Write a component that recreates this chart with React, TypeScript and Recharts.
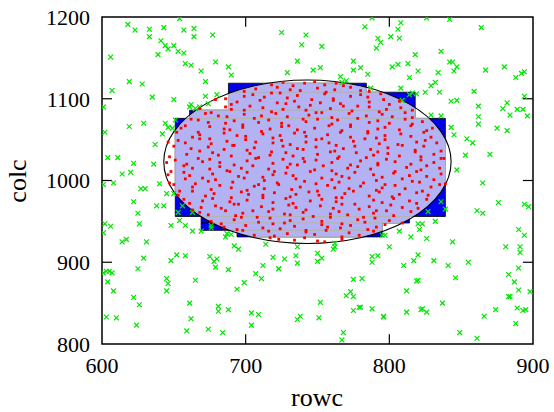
import React from "react";
import {
  ScatterChart,
  Scatter,
  XAxis,
  YAxis,
  ReferenceArea,
  ReferenceLine,
} from "recharts";

const xTicks = [600, 700, 800, 900];
const yTicks = [800, 900, 1000, 1100, 1200];
const innerXTicks = [700, 800];
const innerYTicks = [900, 1000, 1100];

// stepped region, boxes as [x1, x2, y1, y2]
const regionBoxes: number[][] = [
  [688, 784, 1108, 1119],
  [688, 818, 1086, 1108],
  [661, 818, 1076, 1086],
  [651, 839, 956, 1076],
  [669, 814, 948, 956],
  [669, 795, 939, 948],
  [694, 795, 931, 939],
];

// ellipse bounding box [x1, x2, y1, y2]
const ellipseBox = [643, 843, 923, 1123];

// rejected points (green x)
const outsidePoints: number[][] = [
  [618,1191],[623,1184],[633,1185],[633,1176],[643,1187],[654,1198],[657,1184],[664,1186],[664,1176],[677,1178],
  [641,1171],[644,1165],[646,1161],[650,1165],[653,1158],[657,1156],[606,1151],[639,1154],[658,1143],[662,1141],
  [669,1134],[679,1145],[688,1139],[690,1129],[672,1121],[619,1121],[628,1118],[607,1110],[635,1102],[650,1099],
  [662,1093],[661,1090],[665,1088],[668,1090],[672,1103],[680,1105],[674,1094],[601,1090],[602,1059],[619,1066],
  [629,1070],[644,1070],[646,1065],[642,1057],[649,1064],[651,1074],[637,1044],[604,1028],[611,1028],[622,1021],
  [620,1010],[636,1020],[614,1008],[608,997],[601,995],[627,990],[630,990],[640,996],[645,984],[650,984],
  [725,1181],[742,1178],[739,1166],[753,1164],[736,1146],[729,1132],[747,1135],[752,1138],[788,1199],[826,1199],
  [842,1197],[808,1193],[783,1188],[806,1185],[801,1176],[807,1174],[792,1174],[794,1169],[791,1162],[864,1187],
  [836,1158],[818,1154],[775,1146],[775,1135],[780,1138],[802,1139],[806,1142],[813,1143],[820,1134],[834,1132],
  [842,1145],[844,1145],[847,1139],[845,1134],[785,1130],[766,1127],[770,1122],[767,1120],[814,1126],[832,1120],
  [829,1116],[825,1108],[835,1108],[814,1105],[816,1107],[819,1106],[859,1109],[867,1135],[880,1139],[888,1126],
  [894,1133],[892,1131],[894,1103],[843,1097],[847,1098],[862,1091],[879,1088],[882,1095],[884,1080],[889,1087],
  [893,1087],[896,1079],[862,1078],[862,1069],[829,1080],[836,1079],[843,1065],[845,1056],[875,1064],[882,1061],
  [854,1051],[858,1046],[853,1031],[870,1032],[847,1013],[865,997],[809,1098],[808,1113],[787,1113],
  [622,974],[638,969],[643,969],[625,960],[626,947],[602,947],[606,944],[601,936],[614,925],[617,928],
  [631,925],[648,945],[654,951],[658,945],[663,938],[669,938],[676,945],[676,942],[656,969],[663,961],
  [653,961],[629,905],[648,902],[652,909],[658,908],[675,907],[678,901],[680,904],[679,894],[688,891],
  [625,892],[601,887],[603,889],[605,889],[607,887],[604,876],[608,865],[622,857],[626,848],[603,833],
  [610,832],[624,823],[645,880],[646,874],[645,865],[665,878],[661,850],[662,831],[659,816],[674,818],
  [681,846],[681,840],[688,842],[684,814],[694,867],[699,875],[704,838],[709,836],[704,823],[692,920],
  [695,916],[687,935],[686,931],[690,934],[714,922],[707,886],[711,880],[712,896],[719,906],[723,892],
  [836,974],[839,965],[827,962],[832,950],[820,947],[823,947],[821,940],[826,929],[844,925],[807,938],
  [815,931],[800,919],[795,933],[797,933],[762,923],[762,919],[761,916],[736,919],[735,908],[736,899],
  [723,892],[727,904],[750,911],[753,905],[750,901],[788,907],[792,908],[788,900],[810,896],[817,902],
  [820,909],[831,902],[841,896],[855,900],[846,881],[820,878],[819,877],[812,865],[837,850],[822,842],
  [823,843],[826,839],[812,839],[788,843],[796,834],[796,833],[775,879],[781,880],[773,864],[770,859],
  [775,858],[779,845],[780,845],[775,841],[752,851],[751,832],[738,834],[736,830],[768,814],[767,805],
  [849,814],[861,807],[866,834],[874,842],[889,844],[893,841],[895,842],[888,825],[883,858],[884,858],
  [890,866],[883,885],[887,876],[881,919],[891,919],[891,912],[890,940],[894,933],[876,973],[894,971],
  [897,968],[861,963],[865,960],[898,864],[890,893],
];

// accepted points (red dots)
const insidePoints: number[][] = [
  [717,930],[723,928],[734,927],[741,930],[750,926],[755,925],[767,928],
  [698,939],[706,933],[716,938],[720,932],[729,935],[742,937],[748,934],[756,939],[767,931],[772,936],[779,933],[789,938],
  [685,943],[694,940],[700,945],[712,942],[719,947],[724,941],[734,944],[742,939],[753,946],[757,943],[766,942],[773,945],[785,940],[791,943],[797,946],
  [676,950],[683,947],[692,952],[697,955],[709,949],[717,954],[727,948],[731,951],[740,953],[753,950],[759,955],[767,947],[778,952],[783,949],[790,954],[800,951],[809,948],
  [668,961],[674,958],[686,963],[693,957],[698,960],[708,955],[716,962],[727,959],[731,958],[740,961],[747,956],[759,959],[765,962],[771,958],[782,955],[789,960],[798,963],[803,957],[815,962],
  [663,964],[669,967],[679,969],[683,966],[692,971],[705,963],[711,968],[719,965],[730,970],[735,967],[742,964],[752,969],[761,966],[767,971],[779,965],[786,968],[791,963],[801,970],[809,967],[820,966],
  [657,977],[661,972],[670,975],[677,978],[689,974],[695,971],[701,976],[712,979],[719,973],[728,978],[733,972],[745,975],[753,977],[763,974],[767,979],[776,971],[789,976],[795,973],[803,978],[814,975],[819,972],[826,977],
  [653,982],[663,987],[672,981],[678,984],[690,979],[697,986],[702,983],[712,982],[720,985],[731,980],[735,983],[744,986],[751,982],[763,979],[769,984],[775,987],[786,981],[793,986],[802,980],[807,983],[819,985],[827,982],
  [650,995],[654,987],[663,992],[676,989],[682,994],[690,991],[701,988],[706,993],[713,990],[723,995],[732,989],[738,992],[750,987],[757,994],[762,991],[772,990],[780,993],[791,988],[795,991],[804,994],[811,990],[823,987],[829,992],[835,995],
  [647,997],[658,1002],[665,996],[674,999],[679,1001],[691,998],[699,1003],[709,995],[713,1000],[722,997],[735,1002],[741,999],[749,996],[760,1001],[765,998],[772,1003],[782,997],[791,1000],[797,995],[809,1002],[816,999],[821,998],[831,1001],[839,996],
  [646,1007],[657,1010],[661,1006],[670,1003],[677,1008],[689,1011],[695,1005],[701,1010],[712,1004],[719,1007],[728,1009],[733,1006],[745,1011],[753,1003],[763,1008],[767,1005],[776,1010],[789,1007],[795,1004],[803,1009],[814,1006],[819,1011],[826,1005],[836,1008],
  [648,1011],[657,1018],[663,1015],[675,1014],[682,1017],[687,1012],[697,1015],[705,1018],[716,1014],[720,1011],[729,1016],[736,1019],[748,1013],[754,1018],[760,1012],[771,1015],[778,1017],[787,1014],[792,1019],[804,1011],[812,1016],[822,1013],[826,1018],[835,1015],
  [645,1022],[651,1025],[659,1020],[670,1023],[675,1026],[682,1022],[692,1019],[701,1024],[707,1027],[719,1021],[726,1026],[731,1020],[741,1023],[749,1025],[760,1022],[764,1027],[773,1019],[780,1024],[792,1021],[798,1026],[804,1023],[815,1020],[822,1025],[831,1022],[836,1027],
  [647,1029],[659,1032],[667,1027],[677,1034],[681,1031],[690,1030],[703,1033],[709,1028],[717,1031],[728,1034],[733,1030],[740,1027],[750,1032],[759,1035],[765,1029],[777,1034],[784,1028],[789,1031],[799,1033],[807,1030],[818,1035],[822,1029],[831,1032],[838,1027],
  [650,1042],[662,1039],[668,1036],[674,1041],[685,1038],[692,1043],[701,1037],[706,1040],[718,1035],[726,1042],[736,1039],[740,1038],[749,1041],[762,1036],[768,1039],[776,1042],[787,1038],[792,1035],[799,1040],[809,1043],[818,1037],[824,1042],[836,1036],
  [646,1047],[653,1049],[658,1046],[668,1051],[676,1045],[687,1048],[691,1043],[700,1050],[707,1047],[719,1046],[725,1049],[731,1044],[742,1047],[749,1050],[758,1046],[763,1043],[775,1048],[783,1051],[793,1045],[797,1050],[806,1044],[819,1047],[825,1049],[833,1046],
  [652,1059],[663,1053],[668,1056],[675,1051],[685,1058],[694,1055],[700,1054],[712,1057],[719,1052],[724,1055],[734,1058],[742,1054],[753,1051],[757,1056],[766,1059],[773,1053],[785,1058],[791,1052],[797,1055],[808,1057],[815,1054],[824,1059],[829,1053],
  [655,1064],[667,1059],[675,1066],[685,1063],[689,1062],[698,1065],[711,1060],[717,1063],[725,1066],[736,1062],[741,1059],[748,1064],[758,1067],[767,1061],[773,1066],[785,1060],[792,1063],[797,1065],[807,1062],[815,1067],[826,1061],[830,1064],
  [658,1067],[667,1074],[674,1071],[686,1070],[692,1073],[698,1068],[709,1071],[716,1074],[725,1070],[730,1067],[742,1072],[750,1075],[760,1069],[764,1074],[773,1068],[786,1071],[792,1073],[800,1070],[811,1075],[816,1069],[823,1072],
  [662,1075],[672,1082],[681,1079],[687,1078],[699,1081],[706,1076],[711,1079],[721,1082],[729,1078],[740,1075],[744,1080],[753,1083],[760,1077],[772,1082],[778,1076],[784,1079],[795,1081],[802,1078],[811,1083],[816,1077],
  [668,1088],[676,1083],[686,1090],[690,1087],[699,1086],[712,1089],[718,1084],[726,1087],[737,1090],[742,1086],[749,1083],[759,1088],[768,1091],[774,1085],[786,1090],[793,1084],[798,1087],[808,1089],[816,1086],
  [679,1099],[690,1093],[694,1096],[703,1091],[710,1098],[722,1095],[728,1094],[734,1097],[745,1092],[752,1095],[761,1098],[766,1094],[778,1091],[786,1096],[796,1099],[800,1093],[807,1097],
  [686,1100],[699,1103],[705,1105],[713,1102],[724,1107],[729,1101],[736,1104],[746,1099],[755,1106],[761,1100],[773,1103],[780,1105],[785,1102],[794,1106],
  [699,1109],[707,1112],[718,1107],[722,1114],[731,1111],[738,1110],[750,1113],[756,1108],[762,1111],[773,1114],[780,1110],[786,1109],
  [718,1117],[726,1120],[733,1116],[741,1119],[748,1121],[755,1117],[763,1119],[768,1116],
];

const FONT = "'Liberation Serif', 'Times New Roman', serif";
const LAVENDER = "#b3b3f4";
const BLUE = "#0000ee";

const outsideData = outsidePoints.map(([x, y]) => ({ x, y }));
const insideData = insidePoints.map(([x, y]) => ({ x, y }));

const Cross = (p: any) => {
  const { cx, cy } = p;
  const s = 2.4;
  return (
    <path
      d={`M${cx - s},${cy - s}L${cx + s},${cy + s}M${cx - s},${cy + s}L${cx + s},${cy - s}`}
      stroke="#00e600"
      strokeWidth={1.2}
      fill="none"
    />
  );
};

const Dot = (p: any) => (
  <rect x={p.cx - 1.4} y={p.cy - 1.4} width={2.8} height={2.8} fill="#ff0000" />
);

const boxOf = (p: any) => ({
  x: Math.min(p.x, p.x + p.width),
  y: Math.min(p.y, p.y + p.height),
  w: Math.abs(p.width),
  h: Math.abs(p.height),
});

const LavenderBox = (p: any) => {
  const b = boxOf(p);
  return (
    <rect
      x={b.x}
      y={b.y}
      width={b.w}
      height={b.h}
      fill={LAVENDER}
      stroke="#b4b4b4"
      strokeWidth={1}
      clipPath="url(#ellipseClip)"
    />
  );
};

const EllipseShape = (p: any) => {
  const b = boxOf(p);
  const cx = b.x + b.w / 2;
  const cy = b.y + b.h / 2;
  return (
    <g>
      <defs>
        <clipPath id="ellipseClip">
          <ellipse cx={cx} cy={cy} rx={b.w / 2} ry={b.h / 2} />
        </clipPath>
      </defs>
      <ellipse cx={cx} cy={cy} rx={b.w / 2} ry={b.h / 2} fill="none" stroke="#000" strokeWidth={1.1} />
    </g>
  );
};

const tickStyle = { fill: "#000", fontSize: 22, fontFamily: FONT };

export default function App() {
  return (
    <div style={{ position: "relative", width: 554, height: 412, background: "#fff" }}>
      <style>{"body{margin:0}"}</style>
      <ScatterChart width={554} height={412} margin={{ top: 17, right: 21, left: 42, bottom: 8 }}>
        <XAxis
          type="number"
          dataKey="x"
          domain={[600, 900]}
          ticks={xTicks}
          allowDataOverflow
          axisLine={false}
          tickLine={false}
          tickSize={0}
          tickMargin={13}
          height={60}
          tick={tickStyle}
        />
        <YAxis
          type="number"
          dataKey="y"
          domain={[800, 1200]}
          ticks={yTicks}
          allowDataOverflow
          axisLine={false}
          tickLine={false}
          tickSize={0}
          tickMargin={12}
          width={60}
          tick={tickStyle}
        />
        {regionBoxes.map(([x1, x2, y1, y2], i) => (
          <ReferenceArea
            key={`b${i}`}
            x1={x1}
            x2={x2}
            y1={y1}
            y2={y2}
            fill={BLUE}
            fillOpacity={1}
            stroke="#000"
            strokeWidth={0.8}
          />
        ))}
        {regionBoxes.map(([x1, x2, y1, y2], i) => (
          <ReferenceArea key={`l${i}`} x1={x1} x2={x2} y1={y1} y2={y2} shape={LavenderBox} />
        ))}
        <ReferenceArea
          x1={ellipseBox[0]}
          x2={ellipseBox[1]}
          y1={ellipseBox[2]}
          y2={ellipseBox[3]}
          shape={EllipseShape}
        />
        <ReferenceArea
          x1={600}
          x2={900}
          y1={800}
          y2={1200}
          fill="none"
          stroke="#000"
          strokeWidth={1.5}
        />
        {innerXTicks.map((t) => (
          <ReferenceLine key={`xb${t}`} segment={[{ x: t, y: 800 }, { x: t, y: 812 }]} stroke="#000" strokeWidth={1.2} />
        ))}
        {innerXTicks.map((t) => (
          <ReferenceLine key={`xt${t}`} segment={[{ x: t, y: 1200 }, { x: t, y: 1188 }]} stroke="#000" strokeWidth={1.2} />
        ))}
        {innerYTicks.map((t) => (
          <ReferenceLine key={`yl${t}`} segment={[{ x: 600, y: t }, { x: 607, y: t }]} stroke="#000" strokeWidth={1.2} />
        ))}
        {innerYTicks.map((t) => (
          <ReferenceLine key={`yr${t}`} segment={[{ x: 900, y: t }, { x: 893, y: t }]} stroke="#000" strokeWidth={1.2} />
        ))}
        <Scatter data={outsideData} shape={Cross} isAnimationActive={false} />
        <Scatter data={insideData} shape={Dot} isAnimationActive={false} />
      </ScatterChart>
      <div
        style={{
          position: "absolute",
          left: 317,
          top: 398,
          transform: "translate(-50%, -50%)",
          fontFamily: FONT,
          fontSize: 26,
          lineHeight: 1,
          whiteSpace: "nowrap",
        }}
      >
        rowc
      </div>
      <div
        style={{
          position: "absolute",
          left: 18,
          top: 181,
          transform: "translate(-50%, -50%) rotate(-90deg)",
          fontFamily: FONT,
          fontSize: 26,
          lineHeight: 1,
          whiteSpace: "nowrap",
        }}
      >
        colc
      </div>
    </div>
  );
}
